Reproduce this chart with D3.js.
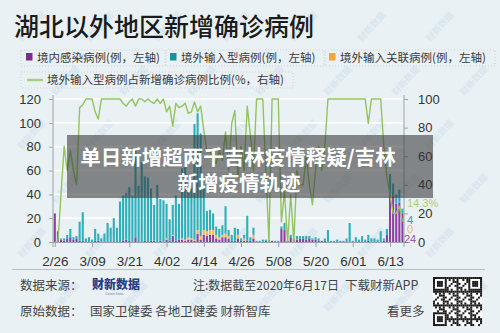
<!DOCTYPE html>
<html>
<head>
<meta charset="utf-8">
<script src="https://cdn.jsdelivr.net/npm/d3@7"></script>
<style>
html, body { margin: 0; padding: 0; background: #e9f1f5; }
svg { display: block; font-family: "Liberation Sans", "Noto Sans CJK SC", sans-serif; }
.cjk { font-family: "Noto Sans CJK SC", sans-serif; }
</style>
</head>
<body>
<svg id="chart" width="500" height="333"></svg>
<script>
// daily new cases outside Hubei, 2/26 - 6/17
var firstDay = new Date(2020, 1, 26);

var domestic = [24, 9, 2, 1, 3, 4, 2, 3, 1, 1,
    0, 0, 0, 1, 1, 0, 0, 0, 0, 0,
    0, 0, 1, 2, 1, 0, 4, 0, 0, 1,
    0, 1, 1, 0, 1, 0, 2, 1, 5, 1,
    2, 2, 1, 2, 2, 1, 7, 2, 6, 5,
    6, 6, 3, 2, 4, 4, 3, 1, 1, 3,
    1, 1, 1, 1, 3, 0, 0, 0, 1, 1,
    1, 0, 0, 11, 10, 1, 4, 2, 2, 3,
    3, 2, 3, 2, 2, 1, 1, 1, 0, 0,
    0, 0, 0, 0, 0, 0, 0, 0, 0, 0,
    0, 1, 0, 0, 0, 0, 1, 6, 38, 39,
    32, 33, 24];

var imported = [0, 0, 1, 2, 3, 7, 2, 2, 16, 24,
    3, 4, 2, 10, 6, 3, 7, 16, 12, 20,
    12, 34, 38, 39, 45, 39, 74, 47, 67, 54,
    54, 44, 30, 48, 35, 35, 29, 18, 25, 38,
    30, 59, 61, 38, 42, 97, 98, 86, 36, 17,
    17, 14, 7, 7, 8, 23, 5, 5, 11, 5,
    2, 3, 21, 3, 6, 1, 1, 2, 1, 1,
    0, 1, 1, 2, 6, 0, 2, 1, 3, 2,
    2, 3, 2, 1, 2, 2, 0, 2, 10, 1,
    1, 2, 1, 1, 3, 16, 1, 4, 2, 5,
    2, 5, 3, 3, 2, 9, 2, 5, 19, 10,
    8, 11, 4];

var related = [0, 0, 0, 0, 0, 0, 0, 0, 0, 0,
    0, 0, 0, 0, 0, 0, 0, 0, 0, 0,
    0, 0, 0, 0, 0, 0, 0, 0, 0, 0,
    0, 0, 0, 0, 0, 0, 1, 0, 1, 0,
    0, 1, 1, 2, 1, 1, 3, 3, 4, 4,
    4, 4, 3, 2, 2, 3, 2, 0, 0, 3,
    0, 2, 0, 0, 3, 0, 0, 0, 0, 0,
    0, 0, 0, 0, 0, 0, 0, 0, 0, 0,
    0, 0, 0, 0, 0, 0, 0, 0, 0, 0,
    0, 0, 0, 0, 0, 0, 0, 0, 0, 0,
    0, 0, 0, 0, 0, 0, 0, 0, 0, 0,
    0, 0, 0];

// share of imported cases, % (right axis)
var importShare = [0, 0, 33, 67, 50, 64, 50, 40, 94, 96,
    100, 100, 100, 91, 86, 100, 100, 100, 100, 100,
    100, 100, 97, 95, 98, 100, 95, 100, 100, 98,
    100, 98, 97, 100, 97, 100, 91, 95, 81, 97,
    94, 95, 97, 90, 91, 98, 91, 95, 78, 63,
    63, 58, 55, 64, 57, 77, 50, 83, 92, 45,
    67, 50, 95, 75, 50, 100, 100, 100, 50, 0,
    100, 100, 100, 14, 35, 0, 33, 0, 50, 40,
    40, 60, 40, 26, 50, 67, 50, 67, 100, 100,
    100, 100, 100, 100, 100, 100, 100, 100, 100, 100,
    100, 83, 100, 100, 100, 100, 67, 45, 33, 20,
    20, 25, 14.3];

var leftTicks = [0, 20, 40, 60, 80, 100, 120];
var rightTicks = [0, 20, 40, 60, 80, 100];
var xTickLabels = ["2/26", "3/09", "3/21", "4/02", "4/14", "4/26", "5/08", "5/20", "6/01", "6/13"];

var legendItems = [
    { name: "境内感染病例(例，左轴)", color: "#7b2c8c", kind: "box" },
    { name: "境外输入型病例(例，左轴)", color: "#17939c", kind: "box" },
    { name: "境外输入关联病例(例，左轴)", color: "#f2a53a", kind: "box" },
    { name: "境外输入型病例占新增确诊病例比例(%，右轴)", color: "#a6d07a", kind: "line" }
];

var svg = d3.select("#chart");
var plot = { left: 53, right: 404, top: 99, bottom: 242 };

// faint watermark, kept inside the frame
var wm = svg.append("g").attr("class", "watermark");
for (var r = 0; r < 6; r++) {
    for (var c = 0; c < 7; c++) {
        var wx = c * 68 + (r % 2) * 34 + 22;
        var wy = r * 54 + 42;
        if (wx > 470 || wy > 322) { continue; }
        wm.append("text")
            .attr("class", "cjk")
            .attr("transform", "translate(" + wx + "," + wy + ") rotate(-48)")
            .attr("font-size", 9)
            .attr("font-weight", 700)
            .attr("fill", "#d9e6ee")
            .text("财新数据");
    }
}

// title
svg.append("text")
    .attr("class", "cjk")
    .attr("x", 14).attr("y", 36)
    .attr("font-size", 25)
    .attr("font-weight", 500)
    .attr("fill", "#1b1b1b")
    .text("湖北以外地区新增确诊病例");

// legend
var legendPos = [
    { x: 26, y: 58, bx: 21, bw: 144 },
    { x: 170, y: 58, bx: 166, bw: 158 },
    { x: 329, y: 58, bx: 325, bw: 170 },
    { x: 26, y: 80, bx: 21, bw: 272 }
];
var lg = svg.append("g").attr("class", "legend");
legendItems.forEach(function (d, i) {
    var p = legendPos[i];
    lg.append("rect")
        .attr("x", p.bx).attr("y", p.y - 8)
        .attr("width", p.bw).attr("height", 16)
        .attr("fill", "none")
        .attr("stroke", "#c3ccd2")
        .attr("stroke-dasharray", "1,2")
        .attr("stroke-width", 0.8);
    if (d.kind === "box") {
        lg.append("rect")
            .attr("x", p.x).attr("y", p.y - 5)
            .attr("width", 6.5).attr("height", 7.5)
            .attr("fill", d.color);
    } else {
        lg.append("line")
            .attr("x1", p.x + 1).attr("x2", p.x + 17)
            .attr("y1", p.y).attr("y2", p.y)
            .attr("stroke", d.color).attr("stroke-width", 2.5);
    }
    lg.append("text")
        .attr("class", "cjk")
        .attr("x", d.kind === "box" ? p.x + 11 : p.x + 21)
        .attr("y", p.y + 4)
        .attr("font-size", 11.5)
        .attr("fill", "#3a3a3a")
        .text(d.name);
});

// data rows
var days = d3.range(domestic.length).map(function (i) { return d3.timeDay.offset(firstDay, i); });
var rows = days.map(function (day, i) {
    return { date: day, domestic: domestic[i], related: related[i], imported: imported[i], share: importShare[i] };
});
var lastDay = days[days.length - 1];

var x = d3.scaleTime()
    .domain([d3.timeHour.offset(firstDay, -14), d3.timeHour.offset(lastDay, 12)])
    .range([plot.left, plot.right]);
var yLeft = d3.scaleLinear().domain([0, 120]).range([plot.bottom, plot.top]);
var yRight = d3.scaleLinear().domain([0, 100]).range([plot.bottom, plot.top]);

var tickDates = xTickLabels.map(function (s) {
    var p = s.split("/");
    return new Date(2020, +p[0] - 1, +p[1]);
});

// grid lines
svg.append("g")
    .selectAll("line")
    .data(leftTicks.slice(1))
    .enter()
    .append("line")
    .attr("x1", plot.left - 3).attr("x2", plot.right)
    .attr("y1", function (d) { return yLeft(d); })
    .attr("y2", function (d) { return yLeft(d); })
    .attr("stroke", "#ffffff")
    .attr("stroke-width", 1.6);

// stacked bars
var stack = d3.stack().keys(["domestic", "related", "imported"]);
var series = stack(rows);
var barColors = { domestic: "#8e3f9f", related: "#f5b35c", imported: "#2eafb9" };
var barW = 2.1;

svg.append("g")
    .selectAll("g")
    .data(series)
    .enter()
    .append("g")
    .attr("fill", function (d) { return barColors[d.key]; })
    .selectAll("rect")
    .data(function (d) { return d; })
    .enter()
    .append("rect")
    .attr("x", function (d) { return x(d.data.date) - barW / 2; })
    .attr("y", function (d) { return yLeft(d[1]); })
    .attr("width", barW)
    .attr("height", function (d) { return Math.max(0, yLeft(d[0]) - yLeft(d[1])); });

// share line
var line = d3.line()
    .x(function (d) { return x(d.date); })
    .y(function (d) { return yRight(d.share); });

svg.append("path")
    .datum(rows)
    .attr("d", line)
    .attr("fill", "none")
    .attr("stroke", "#92c45e")
    .attr("stroke-width", 1.4)
    .attr("stroke-linejoin", "round");

// axes
var axisColor = "#9aa4aa";
var leftAxis = svg.append("g")
    .attr("transform", "translate(" + plot.left + ",0)")
    .call(d3.axisLeft(yLeft).tickValues(leftTicks).tickSize(4).tickPadding(8));
var rightAxis = svg.append("g")
    .attr("transform", "translate(" + plot.right + ",0)")
    .call(d3.axisRight(yRight).tickValues(rightTicks).tickSize(4).tickPadding(10));
var bottomAxis = svg.append("g")
    .attr("transform", "translate(0," + plot.bottom + ")")
    .call(d3.axisBottom(x).tickValues(tickDates).tickFormat(d3.timeFormat("%-m/%d")).tickSize(5).tickPadding(9));

[leftAxis, rightAxis, bottomAxis].forEach(function (a) {
    a.select(".domain").remove();
    a.selectAll(".tick line").attr("stroke", axisColor);
    a.selectAll(".tick text")
        .attr("fill", "#333")
        .attr("font-size", 13)
        .attr("font-family", "Liberation Sans, sans-serif");
});
bottomAxis.selectAll(".tick text").attr("font-size", 13.5);

svg.append("line")
    .attr("x1", plot.left).attr("x2", plot.left)
    .attr("y1", 95).attr("y2", 247)
    .attr("stroke", axisColor);
svg.append("line")
    .attr("x1", plot.right).attr("x2", plot.right)
    .attr("y1", 95).attr("y2", 247)
    .attr("stroke", axisColor);
svg.append("line")
    .attr("x1", plot.left).attr("x2", plot.right)
    .attr("y1", plot.bottom + 0.5).attr("y2", plot.bottom + 0.5)
    .attr("stroke", axisColor);

// last-day labels
var last = rows[rows.length - 1];
var endLabels = [
    { text: last.share + "%", color: "#a6d07a", dy: 203 },
    { text: String(last.imported), color: "#2aa3ad", dy: 219.5 },
    { text: String(last.related), color: "#f2b36a", dy: 229 },
    { text: String(last.domestic), color: "#9a5aa8", dy: 238.5 }
];
svg.append("g")
    .selectAll("text")
    .data(endLabels)
    .enter()
    .append("text")
    .attr("x", function (d, i) { return i === 3 ? 404 : 407; })
    .attr("y", function (d) { return d.dy + 4; })
    .attr("font-size", 11)
    .attr("fill", function (d) { return d.color; })
    .text(function (d) { return d.text; });

// footer
svg.append("line")
    .attr("x1", 12).attr("x2", 485)
    .attr("y1", 269.5).attr("y2", 269.5)
    .attr("stroke", "#b7c0c6");

var foot = svg.append("g").attr("class", "cjk").attr("fill", "#444").attr("font-size", 12.5);
foot.append("text").attr("x", 20).attr("y", 290).text("数据来源：");
foot.append("text").attr("x", 193).attr("y", 290).attr("font-size", 12).text("注:数据截至2020年6月17日");
foot.append("text").attr("x", 345).attr("y", 290).attr("font-size", 12.5).text("下载财新APP");
foot.append("text").attr("x", 20).attr("y", 316).text("原始数据：");
foot.append("text").attr("x", 90).attr("y", 316).text("国家卫健委 各地卫健委 财新智库");
foot.append("text").attr("x", 387).attr("y", 316).text("看更多");

// caixin data logo
svg.append("text")
    .attr("class", "cjk")
    .attr("x", 92).attr("y", 289)
    .attr("font-size", 12)
    .attr("font-weight", 900)
    .attr("fill", "#2b3f86")
    .attr("textLength", 48)
    .text("财新数据");
svg.append("text")
    .attr("x", 105).attr("y", 295)
    .attr("font-size", 3.5)
    .attr("fill", "#6b7aa8")
    .text("Caixin Data");

// qr code block
var qr = svg.append("g").attr("transform", "translate(433,277)");
qr.append("rect").attr("width", 49).attr("height", 49).attr("fill", "#fff");
var cell = 49 / 25;
for (var qy = 0; qy < 25; qy++) {
    for (var qx = 0; qx < 25; qx++) {
        var inFinder = (qx < 7 && qy < 7) || (qx > 17 && qy < 7) || (qx < 7 && qy > 17);
        var on;
        if (inFinder) {
            var fx = qx > 17 ? qx - 18 : qx, fy = qy > 17 ? qy - 18 : qy;
            on = (fx === 0 || fx === 6 || fy === 0 || fy === 6) || (fx >= 2 && fx <= 4 && fy >= 2 && fy <= 4);
        } else {
            on = ((qx * 7 + qy * 13 + qx * qy * 3) % 7) < 3;
        }
        if (on) {
            qr.append("rect")
                .attr("x", qx * cell).attr("y", qy * cell)
                .attr("width", cell + 0.05).attr("height", cell + 0.05)
                .attr("fill", "#1a1a1a");
        }
    }
}

// headline banner
svg.append("rect")
    .attr("x", 67).attr("y", 135)
    .attr("width", 366).attr("height", 63)
    .attr("fill", "rgba(55,55,55,0.58)");
var banner = svg.append("g")
    .attr("class", "cjk")
    .attr("fill", "#ffffff")
    .attr("font-size", 20.5)
    .attr("font-weight", 700)
    .attr("text-anchor", "middle");
banner.append("text").attr("x", 238).attr("y", 165).text("单日新增超两千吉林疫情释疑/吉林");
banner.append("text").attr("x", 239).attr("y", 191).text("新增疫情轨迹");
</script>
</body>
</html>
